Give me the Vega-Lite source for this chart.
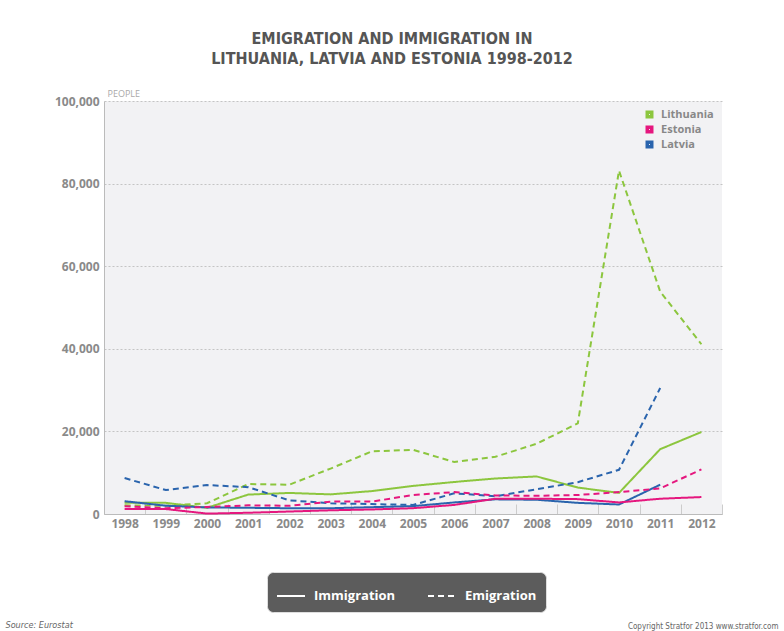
{
  "$schema": "https://vega.github.io/schema/vega-lite/v6.json",
  "width": 618,
  "height": 413,
  "autosize": {"type": "none"},
  "padding": {"left": 104, "top": 101, "right": 62, "bottom": 117},
  "background": "#ffffff",
  "title": {
    "text": ["EMIGRATION AND IMMIGRATION IN", "LITHUANIA, LATVIA AND ESTONIA 1998-2012"],
    "anchor": "middle",
    "dx": -21,
    "offset": 22,
    "font": "DejaVu Sans Condensed, Roboto, sans-serif",
    "fontSize": 16,
    "fontWeight": "bold",
    "lineHeight": 20,
    "color": "#555555",
    "frame": "group"
  },
  "config": {
    "view": {"fill": "#f2f2f4", "stroke": null},
    "font": "Open Sans"
  },
  "data": {
    "values": [
      {"year": "1998", "country": "Lithuania", "type": "Emigration", "value": 2100},
      {"year": "1999", "country": "Lithuania", "type": "Emigration", "value": 2000},
      {"year": "2000", "country": "Lithuania", "type": "Emigration", "value": 2600},
      {"year": "2001", "country": "Lithuania", "type": "Emigration", "value": 7250},
      {"year": "2002", "country": "Lithuania", "type": "Emigration", "value": 7100},
      {"year": "2003", "country": "Lithuania", "type": "Emigration", "value": 11000},
      {"year": "2004", "country": "Lithuania", "type": "Emigration", "value": 15150},
      {"year": "2005", "country": "Lithuania", "type": "Emigration", "value": 15550},
      {"year": "2006", "country": "Lithuania", "type": "Emigration", "value": 12600},
      {"year": "2007", "country": "Lithuania", "type": "Emigration", "value": 13850},
      {"year": "2008", "country": "Lithuania", "type": "Emigration", "value": 17000},
      {"year": "2009", "country": "Lithuania", "type": "Emigration", "value": 21950},
      {"year": "2010", "country": "Lithuania", "type": "Emigration", "value": 83150},
      {"year": "2011", "country": "Lithuania", "type": "Emigration", "value": 53850},
      {"year": "2012", "country": "Lithuania", "type": "Emigration", "value": 41100},

      {"year": "1998", "country": "Lithuania", "type": "Immigration", "value": 2700},
      {"year": "1999", "country": "Lithuania", "type": "Immigration", "value": 2700},
      {"year": "2000", "country": "Lithuania", "type": "Immigration", "value": 1500},
      {"year": "2001", "country": "Lithuania", "type": "Immigration", "value": 4700},
      {"year": "2002", "country": "Lithuania", "type": "Immigration", "value": 5100},
      {"year": "2003", "country": "Lithuania", "type": "Immigration", "value": 4750},
      {"year": "2004", "country": "Lithuania", "type": "Immigration", "value": 5550},
      {"year": "2005", "country": "Lithuania", "type": "Immigration", "value": 6800},
      {"year": "2006", "country": "Lithuania", "type": "Immigration", "value": 7750},
      {"year": "2007", "country": "Lithuania", "type": "Immigration", "value": 8600},
      {"year": "2008", "country": "Lithuania", "type": "Immigration", "value": 9100},
      {"year": "2009", "country": "Lithuania", "type": "Immigration", "value": 6400},
      {"year": "2010", "country": "Lithuania", "type": "Immigration", "value": 5100},
      {"year": "2011", "country": "Lithuania", "type": "Immigration", "value": 15700},
      {"year": "2012", "country": "Lithuania", "type": "Immigration", "value": 19850},

      {"year": "1998", "country": "Latvia", "type": "Emigration", "value": 8700},
      {"year": "1999", "country": "Latvia", "type": "Emigration", "value": 5800},
      {"year": "2000", "country": "Latvia", "type": "Emigration", "value": 7000},
      {"year": "2001", "country": "Latvia", "type": "Emigration", "value": 6500},
      {"year": "2002", "country": "Latvia", "type": "Emigration", "value": 3300},
      {"year": "2003", "country": "Latvia", "type": "Emigration", "value": 2600},
      {"year": "2004", "country": "Latvia", "type": "Emigration", "value": 2400},
      {"year": "2005", "country": "Latvia", "type": "Emigration", "value": 2200},
      {"year": "2006", "country": "Latvia", "type": "Emigration", "value": 5000},
      {"year": "2007", "country": "Latvia", "type": "Emigration", "value": 4300},
      {"year": "2008", "country": "Latvia", "type": "Emigration", "value": 6000},
      {"year": "2009", "country": "Latvia", "type": "Emigration", "value": 7700},
      {"year": "2010", "country": "Latvia", "type": "Emigration", "value": 10700},
      {"year": "2011", "country": "Latvia", "type": "Emigration", "value": 30500},

      {"year": "1998", "country": "Latvia", "type": "Immigration", "value": 3100},
      {"year": "1999", "country": "Latvia", "type": "Immigration", "value": 2000},
      {"year": "2000", "country": "Latvia", "type": "Immigration", "value": 1600},
      {"year": "2001", "country": "Latvia", "type": "Immigration", "value": 1500},
      {"year": "2002", "country": "Latvia", "type": "Immigration", "value": 1400},
      {"year": "2003", "country": "Latvia", "type": "Immigration", "value": 1400},
      {"year": "2004", "country": "Latvia", "type": "Immigration", "value": 1650},
      {"year": "2005", "country": "Latvia", "type": "Immigration", "value": 1900},
      {"year": "2006", "country": "Latvia", "type": "Immigration", "value": 2800},
      {"year": "2007", "country": "Latvia", "type": "Immigration", "value": 3550},
      {"year": "2008", "country": "Latvia", "type": "Immigration", "value": 3450},
      {"year": "2009", "country": "Latvia", "type": "Immigration", "value": 2700},
      {"year": "2010", "country": "Latvia", "type": "Immigration", "value": 2300},
      {"year": "2011", "country": "Latvia", "type": "Immigration", "value": 7100},

      {"year": "1998", "country": "Estonia", "type": "Emigration", "value": 1900},
      {"year": "1999", "country": "Estonia", "type": "Emigration", "value": 1400},
      {"year": "2000", "country": "Estonia", "type": "Emigration", "value": 1700},
      {"year": "2001", "country": "Estonia", "type": "Emigration", "value": 2100},
      {"year": "2002", "country": "Estonia", "type": "Emigration", "value": 2000},
      {"year": "2003", "country": "Estonia", "type": "Emigration", "value": 3000},
      {"year": "2004", "country": "Estonia", "type": "Emigration", "value": 3000},
      {"year": "2005", "country": "Estonia", "type": "Emigration", "value": 4600},
      {"year": "2006", "country": "Estonia", "type": "Emigration", "value": 5300},
      {"year": "2007", "country": "Estonia", "type": "Emigration", "value": 4500},
      {"year": "2008", "country": "Estonia", "type": "Emigration", "value": 4400},
      {"year": "2009", "country": "Estonia", "type": "Emigration", "value": 4600},
      {"year": "2010", "country": "Estonia", "type": "Emigration", "value": 5300},
      {"year": "2011", "country": "Estonia", "type": "Emigration", "value": 6200},
      {"year": "2012", "country": "Estonia", "type": "Emigration", "value": 10800},

      {"year": "1998", "country": "Estonia", "type": "Immigration", "value": 1200},
      {"year": "1999", "country": "Estonia", "type": "Immigration", "value": 1200},
      {"year": "2000", "country": "Estonia", "type": "Immigration", "value": 100},
      {"year": "2001", "country": "Estonia", "type": "Immigration", "value": 300},
      {"year": "2002", "country": "Estonia", "type": "Immigration", "value": 600},
      {"year": "2003", "country": "Estonia", "type": "Immigration", "value": 900},
      {"year": "2004", "country": "Estonia", "type": "Immigration", "value": 1100},
      {"year": "2005", "country": "Estonia", "type": "Immigration", "value": 1400},
      {"year": "2006", "country": "Estonia", "type": "Immigration", "value": 2200},
      {"year": "2007", "country": "Estonia", "type": "Immigration", "value": 3700},
      {"year": "2008", "country": "Estonia", "type": "Immigration", "value": 3700},
      {"year": "2009", "country": "Estonia", "type": "Immigration", "value": 3600},
      {"year": "2010", "country": "Estonia", "type": "Immigration", "value": 2800},
      {"year": "2011", "country": "Estonia", "type": "Immigration", "value": 3700},
      {"year": "2012", "country": "Estonia", "type": "Immigration", "value": 4100}
    ]
  },
  "layer": [
    {
      "mark": {"type": "line", "strokeWidth": 2},
      "encoding": {
        "x": {
          "field": "year",
          "type": "ordinal",
          "bandPosition": 0.5,
          "scale": {"type": "band", "paddingInner": 0, "paddingOuter": 0},
          "axis": {
            "title": "Source: Eurostat",
            "titleX": -99,
            "titleY": 113,
            "titleAlign": "left",
            "titleAnchor": null,
            "titleBaseline": "alphabetic",
            "titleFont": "DejaVu Sans Condensed, Roboto, sans-serif",
            "titleFontSize": 9,
            "titleFontWeight": "normal",
            "titleFontStyle": "italic",
            "titleColor": "#666666",
            "labelAngle": 0,
            "labelFontSize": 12,
            "labelFontWeight": "bold",
            "labelColor": "#8a8a8a",
            "labelPadding": 14,
            "tickBand": "extent",
            "tickSize": -10,
            "tickColor": "#cccccc",
            "domainColor": "#bbbbbb",
            "grid": false
          }
        },
        "y": {
          "field": "value",
          "type": "quantitative",
          "scale": {"domain": [0, 100000], "nice": false},
          "axis": {
            "title": "PEOPLE",
            "titleAngle": 0,
            "titleX": 3,
            "titleY": -3,
            "titleAlign": "left",
            "titleBaseline": "bottom",
            "titleFontSize": 9,
            "titleFontWeight": "normal",
            "titleColor": "#aaaaaa",
            "values": [0, 20000, 40000, 60000, 80000, 100000],
            "format": ",d",
            "labelFontSize": 12,
            "labelFontWeight": "bold",
            "labelColor": "#8a8a8a",
            "labelPadding": 5,
            "ticks": false,
            "domainColor": "#bbbbbb",
            "grid": true,
            "gridColor": "#c4c4c4",
            "gridDash": [2, 2],
            "gridWidth": 1
          }
        },
        "color": {
          "field": "country",
          "type": "nominal",
          "scale": {
            "domain": ["Lithuania", "Estonia", "Latvia"],
            "range": ["#8cc63e", "#e5177e", "#2a64ad"]
          },
          "legend": {
            "title": null,
            "orient": "top-right",
            "offset": 8,
            "symbolType": "square",
            "symbolSize": 20,
            "symbolStrokeWidth": 3.5,
            "symbolDash": [1, 0],
            "labelFontSize": 11,
            "labelFontWeight": "bold",
            "labelColor": "#888888",
            "rowPadding": -12,
            "labelOffset": 6
          }
        },
        "strokeDash": {
          "field": "type",
          "type": "nominal",
          "scale": {
            "domain": ["Immigration", "Emigration"],
            "range": [[1, 0], [6, 4]]
          },
          "legend": {
            "title": null,
            "orient": "none",
            "legendX": 163,
            "legendY": 471,
            "direction": "horizontal",
            "fillColor": "#5c5c5c",
            "strokeColor": "#dedede",
            "cornerRadius": 6,
            "padding": 9,
            "columnPadding": 28,
            "symbolType": "stroke",
            "symbolSize": 784,
            "symbolStrokeColor": "#ffffff",
            "symbolStrokeWidth": 2,
            "labelColor": "#ffffff",
            "labelFontSize": 13,
            "labelFontWeight": "bold",
            "labelOffset": 8
          }
        },
        "detail": {"field": "country"}
      }
    },
    {
      "mark": {"type": "line", "opacity": 0},
      "encoding": {
        "x": {"field": "year", "type": "ordinal", "bandPosition": 0.5},
        "y": {
          "field": "value",
          "type": "quantitative",
          "axis": {
            "orient": "right",
            "title": "Copyright Stratfor 2013   www.stratfor.com",
            "titleAngle": 0,
            "titleX": 56,
            "titleY": 527,
            "titleAlign": "right",
            "titleBaseline": "alphabetic",
            "titleFont": "DejaVu Sans Condensed, Roboto, sans-serif",
            "titleFontSize": 8,
            "titleFontWeight": "normal",
            "titleColor": "#666666",
            "labels": false,
            "ticks": false,
            "domain": false,
            "grid": false
          }
        },
        "detail": {"field": "country"}
      }
    }
  ],
  "resolve": {"axis": {"y": "independent"}}
}
